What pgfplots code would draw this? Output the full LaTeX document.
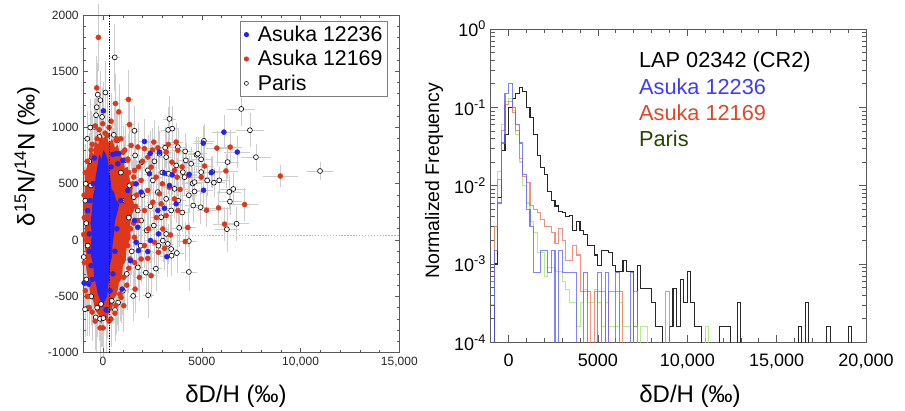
\documentclass[border=0pt]{standalone}
\usepackage{fontspec}
\setmainfont{Liberation Sans}
\setsansfont{Liberation Sans}
\usepackage{pgfplots}
\pgfplotsset{compat=1.18}
\definecolor{ablue}{RGB}{35,35,245}
\definecolor{ared}{RGB}{222,55,25}
\definecolor{errgray}{RGB}{205,205,205}
\definecolor{hblue}{RGB}{90,90,255}
\definecolor{hred}{RGB}{238,110,90}
\definecolor{hgreen}{RGB}{160,228,100}
\definecolor{hblack}{RGB}{40,40,40}
\definecolor{tblue}{RGB}{60,60,255}
\definecolor{tred}{RGB}{225,70,40}
\definecolor{tgreen}{RGB}{40,70,0}
\definecolor{frame}{RGB}{90,90,90}
\pgfplotsset{
  layers/scatterlayers/.define layer set={axis background,axis grid,axis ticks,axis lines,axis tick labels,errlayer,main,marklayer,axis descriptions,axis foreground}{},
  errs/.style={error bars/.cd, x dir=both, x explicit, y dir=both, y explicit,
     error bar style={errgray, line width=0.4pt}, error mark=none},
  reddot/.style={only marks, mark=*, mark size=1.85pt, mark options={draw=ared, fill=ared}, on layer=errlayer, mark layer=marklayer},
  bluedot/.style={only marks, mark=*, mark size=1.85pt, mark options={draw=ablue, fill=ablue}, on layer=errlayer, mark layer=marklayer},
  parisdot/.style={only marks, mark=*, mark size=1.85pt, mark options={draw=black, fill=white, line width=0.45pt}, on layer=errlayer, mark layer=marklayer},
}
\begin{document}
\begin{tikzpicture}
% ================= LEFT: scatter =================
\begin{axis}[
  set layers=scatterlayers,
  at={(62.5pt,43pt)}, anchor=south west, scale only axis,
  width=237pt, height=253.3pt,
  xmin=-1000, xmax=15000, ymin=-1000, ymax=2000,
  scaled x ticks=false, scaled y ticks=false,
  axis line style={frame, line width=0.6pt},
  tick style={frame, line width=0.5pt},
  major tick length=3.5pt, minor tick length=2pt,
  xtick={0,5000,10000,15000}, xticklabels={0,5000,{10,000},{15,000}},
  ytick={-1000,-500,0,500,1000,1500,2000},
  yticklabels={-1000,-500,0,500,1000,1500,2000},
  minor x tick num=4, minor y tick num=4,
  ticklabel style={font=\fontsize{9}{10}\selectfont, text=black!85},
  xlabel={δD/H (‰)},
  ylabel={δ\textsuperscript{15}N/\textsuperscript{14}N (‰)},
  label style={font=\fontsize{18}{20}\selectfont},
  xlabel style={at={(axis description cs:0.483,-0.128)}, anchor=center},
  ylabel style={at={(axis description cs:-0.178,0.582)}, anchor=center},
  legend style={at={(0.965,0.983)}, anchor=north east, draw=gray, line width=0.8pt,
     font=\fontsize{16}{18}\selectfont, inner xsep=2pt, inner ysep=1.5pt,
     nodes={inner sep=2pt}, row sep=1.2pt, cells={anchor=west}},
  legend image code/.code={\path (0,0) (0.3cm,0); \draw[#1] plot coordinates {(0.15cm,0cm)};},
]
\addlegendimage{only marks, mark=*, mark size=1.5pt, mark options={draw=ablue, fill=ablue}}
\addlegendentry{Asuka 12236}
\addlegendimage{only marks, mark=*, mark size=1.5pt, mark options={draw=ared, fill=ared}}
\addlegendentry{Asuka 12169}
\addlegendimage{only marks, mark=*, mark size=1.5pt, mark options={draw=black, fill=white, line width=0.4pt}}
\addlegendentry{Paris}

% horizontal reference line
\addplot[forget plot, gray!55, line width=0.6pt, dash pattern=on 1pt off 1.2pt, on layer=errlayer] coordinates {(-1000,40) (15000,40)};

% core points inside the dense cluster (only their error bars show)
\addplot[draw=none, mark=none, forget plot, on layer=errlayer, errs] coordinates {
(-600,300) +- (300,500)
(-300,600) +- (300,550)
(0,500) +- (350,600)
(300,400) +- (350,550)
(600,300) +- (400,450)
(900,100) +- (400,450)
(500,-100) +- (350,500)
(200,-300) +- (350,550)
(-200,-400) +- (300,500)
(-500,-200) +- (300,500)
(-750,100) +- (250,500)
(100,100) +- (400,700)
(-200,200) +- (350,650)
(400,700) +- (350,500)
(-100,-550) +- (300,400)
(700,-300) +- (350,450)
(1100,400) +- (350,400)
(-600,600) +- (300,550)
(200,800) +- (300,500)
(0,-200) +- (350,750)
(-400,0) +- (300,650)
(300,0) +- (350,700)
(-100,300) +- (300,800)
(150,-600) +- (250,400)
(-350,-650) +- (250,350)
(800,600) +- (350,450)
(-700,-300) +- (250,450)
(500,500) +- (350,500)
(-50,-350) +- (300,600)
(250,200) +- (350,650)
};

% Paris
\addplot[parisdot, forget plot, errs] coordinates {
(591,1623) +- (250,300)
(6996,1165) +- (700,150)
(7436,976) +- (700,150)
(7740,737) +- (750,120)
(10985,614) +- (680,80)
(6303,693) +- (600,150)
(6388,428) +- (600,150)
(6591,454) +- (650,140)
(6422,342) +- (600,120)
(6270,97) +- (600,200)
(6760,145) +- (650,150)
(5881,531) +- (550,120)
(5610,510) +- (550,130)
(5526,605) +- (500,140)
(5103,882) +- (500,150)
(4968,717) +- (480,150)
(4731,758) +- (450,160)
(4191,708) +- (420,150)
(4157,788) +- (420,160)
(3363,1077) +- (350,200)
(3295,979) +- (350,200)
(1588,971) +- (250,220)
(3785,826) +- (380,170)
(4529,502) +- (450,150)
(4935,292) +- (450,150)
(4563,307) +- (420,150)
(4343,398) +- (400,160)
(4005,245) +- (400,170)
(3853,109) +- (380,170)
(4343,-9) +- (400,160)
(4343,-283) +- (400,170)
(3735,-115) +- (380,180)
(3465,-139) +- (350,180)
(2670,-254) +- (300,200)
(2281,-490) +- (280,200)
(2163,-289) +- (280,200)
(1521,-496) +- (230,220)
(760,-555) +- (200,250)
(-777,-605) +- (150,250)
(-913,-614) +- (150,250)
(-372,-687) +- (150,280)
(-152,-699) +- (150,280)
(17,-693) +- (150,280)
(-271,1292) +- (150,280)
(118,1311) +- (150,280)
(-321,1180) +- (150,260)
(-135,1243) +- (150,260)
(-355,1109) +- (150,260)
(-51,1094) +- (150,260)
(-440,1005) +- (150,250)
(-186,916) +- (150,250)
(541,935) +- (200,250)
(710,885) +- (200,230)
(4799,767) +- (450,150)
(4461,678) +- (430,150)
(4968,604) +- (450,140)
(5272,530) +- (480,140)
(4630,515) +- (430,150)
(4630,432) +- (430,150)
(3194,737) +- (330,180)
(3700,663) +- (370,170)
(4039,604) +- (400,160)
(4124,559) +- (400,160)
(3143,821) +- (320,180)
(2856,767) +- (300,190)
(3312,589) +- (330,180)
(3616,455) +- (360,170)
(3194,366) +- (330,180)
(3447,263) +- (340,180)
(2940,203) +- (310,190)
(2568,129) +- (300,190)
(2213,85) +- (280,200)
(1926,174) +- (260,200)
(1757,263) +- (250,210)
(1554,381) +- (240,210)
(1335,485) +- (230,220)
(2771,426) +- (300,190)
(2518,530) +- (290,200)
(2264,619) +- (280,200)
(1960,693) +- (260,210)
(1622,752) +- (250,210)
(1081,708) +- (220,220)
(3500,990) +- (350,200)
(3447,-79) +- (340,180)
(3278,-34) +- (330,180)
(3025,-5) +- (310,190)
(3194,55) +- (320,190)
(1757,-242) +- (250,210)
(439,-539) +- (200,250)
(-102,-568) +- (150,260)
(-609,485) +- (150,250)
(-777,-49) +- (150,240)
(-850,150) +- (150,240)
(-900,350) +- (150,240)
(-700,700) +- (150,250)
(1450,-100) +- (230,210)
(1200,-300) +- (220,220)
(1000,-450) +- (210,230)
(600,-620) +- (200,250)
(1300,200) +- (230,210)
(1100,350) +- (220,220)
(900,600) +- (210,230)
(-600,-500) +- (150,250)
(-300,-600) +- (150,260)
(200,-620) +- (160,260)
(2000,400) +- (270,200)
(2400,300) +- (280,200)
(2600,700) +- (290,200)
(3000,600) +- (310,190)
(2800,-50) +- (300,190)
(3800,350) +- (380,170)
(1900,-50) +- (260,210)
(-850,-350) +- (150,250)
(-880,500) +- (150,250)
(-800,900) +- (150,250)
(-650,1000) +- (150,250)
(-980,-150) +- (150,250)
};

% red dense core
\addplot[forget plot, fill=ared, draw=none, on layer=main] coordinates {
(-900,600) (-750,700) (-650,820) (-500,760) (-400,880) (-250,850) (-150,960)
(0,900) (150,940) (300,860) (450,900) (600,820) (750,850) (850,760)
(1000,720) (1100,640) (1250,650) (1350,540) (1500,470) (1450,380)
(1600,300) (1450,220) (1350,120) (1400,20) (1200,-60) (1150,-180)
(1000,-230) (950,-340) (800,-380) (700,-480) (550,-520) (450,-620)
(300,-640) (200,-720) (50,-690) (-100,-740) (-250,-660) (-400,-620)
(-500,-540) (-650,-480) (-750,-350) (-850,-260) (-880,-120) (-960,0)
(-900,150) (-970,300) (-920,450)
};

% Asuka 12169
\addplot[reddot, forget plot, errs] coordinates {
(-237,1801) +- (150,300)
(-321,1352) +- (150,280)
(1284,1249) +- (220,260)
(625,1213) +- (200,260)
(794,1139) +- (200,250)
(1335,1026) +- (220,240)
(406,1056) +- (180,250)
(-389,1014) +- (150,250)
(5763,817) +- (550,150)
(6439,826) +- (600,150)
(6219,614) +- (600,150)
(8974,569) +- (900,100)
(7165,316) +- (700,150)
(5847,286) +- (550,150)
(5239,265) +- (500,150)
(6151,142) +- (600,150)
(4292,112) +- (400,170)
(5137,658) +- (500,150)
(4326,572) +- (420,160)
(3700,871) +- (370,170)
(2568,871) +- (300,200)
(2770,820) +- (300,190)
(4968,559) +- (450,150)
(3785,797) +- (380,170)
(3194,782) +- (330,180)
(3481,693) +- (350,180)
(3616,619) +- (360,170)
(3751,559) +- (370,170)
(3363,470) +- (340,180)
(3616,366) +- (360,170)
(3785,263) +- (380,170)
(3194,218) +- (330,180)
(2940,322) +- (310,190)
(2856,411) +- (300,190)
(2686,559) +- (290,200)
(2433,648) +- (280,200)
(2264,737) +- (280,200)
(2095,812) +- (270,200)
(1757,827) +- (250,210)
(1419,841) +- (240,210)
(1250,708) +- (230,220)
(1588,619) +- (250,210)
(1926,530) +- (260,210)
(2264,441) +- (280,200)
(2518,337) +- (290,200)
(2095,263) +- (270,200)
(1757,174) +- (250,210)
(1419,263) +- (240,210)
(1165,352) +- (230,220)
(912,441) +- (220,220)
(743,559) +- (210,230)
(574,678) +- (200,230)
(490,797) +- (200,240)
(659,886) +- (200,240)
(236,930) +- (180,250)
(-102,886) +- (150,250)
(-17,1034) +- (160,250)
(4157,-13) +- (400,170)
(3413,46) +- (340,180)
(3025,99) +- (310,190)
(3109,-73) +- (320,190)
(2805,-108) +- (300,190)
(2264,-162) +- (280,200)
(2433,-316) +- (280,200)
(1842,-331) +- (260,210)
(1622,-435) +- (250,210)
(1047,-583) +- (220,230)
(912,-509) +- (220,230)
(1368,-168) +- (240,210)
(1926,-168) +- (260,210)
(2095,-49) +- (270,200)
(2602,-19) +- (290,200)
(1250,-49) +- (230,220)
(1588,25) +- (250,210)
(1500,500) +- (240,210)
(1700,400) +- (250,210)
(1800,650) +- (250,210)
(2000,700) +- (270,200)
(1300,600) +- (230,220)
(1100,800) +- (220,230)
(900,900) +- (210,240)
(300,1000) +- (180,250)
(100,950) +- (170,250)
(-300,900) +- (150,250)
(-600,800) +- (150,250)
(-900,600) +- (150,250)
(-950,200) +- (150,250)
(-950,-200) +- (150,250)
(-900,-450) +- (150,250)
(-700,-600) +- (150,250)
(-400,-720) +- (150,260)
(0,-780) +- (150,260)
(300,-720) +- (160,260)
(600,-650) +- (180,250)
(1400,100) +- (240,210)
(1200,-400) +- (220,220)
(800,-200) +- (210,230)
(2300,100) +- (280,200)
(2700,200) +- (290,200)
(3000,500) +- (310,190)
(2500,800) +- (290,200)
(3300,850) +- (340,180)
(3900,450) +- (390,170)
(4000,650) +- (400,160)
(-800,700) +- (150,250)
(-550,850) +- (150,250)
(-200,980) +- (150,250)
(700,900) +- (200,240)
(1000,780) +- (220,230)
(1250,720) +- (230,220)
(1550,560) +- (240,210)
(1650,300) +- (250,210)
(1550,150) +- (240,210)
(1300,-250) +- (230,220)
(1050,-330) +- (220,230)
(850,-480) +- (210,240)
(650,-580) +- (200,250)
(400,-700) +- (180,250)
(-150,-780) +- (150,260)
(-550,-640) +- (150,260)
(-800,-500) +- (150,250)
(-980,50) +- (150,250)
(-960,400) +- (150,250)
(1150,150) +- (230,220)
(1600,-200) +- (250,210)
};

% blue dense core
\addplot[forget plot, fill=ablue, draw=none, on layer=main] coordinates {
(-200,760) (-80,720) (20,800) (150,760) (250,700) (300,600) (380,540)
(430,450) (550,430) (650,360) (820,320) (700,230) (600,170) (560,60)
(480,-40) (450,-150) (350,-220) (320,-330) (240,-420) (200,-500)
(80,-540) (-30,-600) (-150,-530) (-260,-480) (-350,-400) (-450,-330)
(-500,-220) (-600,-150) (-620,-30) (-560,60) (-640,150) (-560,260)
(-520,380) (-430,450) (-380,560) (-300,640)
};

% Asuka 12236
\addplot[bluedot, forget plot, errs] coordinates {
(6118,959) +- (600,150)
(6794,782) +- (650,140)
(5070,861) +- (500,150)
(5087,443) +- (500,150)
(5475,599) +- (540,140)
(4360,584) +- (420,160)
(2095,876) +- (270,200)
(2383,770) +- (280,200)
(3228,-148) +- (330,180)
(2400,-3) +- (280,200)
(17,1148) +- (160,260)
(2856,782) +- (300,190)
(2348,589) +- (280,200)
(3109,595) +- (320,190)
(3363,485) +- (340,180)
(3700,322) +- (370,170)
(3109,283) +- (320,190)
(2771,263) +- (300,190)
(1926,426) +- (260,210)
(1673,500) +- (250,210)
(1588,174) +- (250,210)
(1757,114) +- (250,210)
(1250,441) +- (230,220)
(997,708) +- (220,220)
(743,678) +- (210,230)
(659,767) +- (200,230)
(490,761) +- (200,240)
(2805,55) +- (300,190)
(2264,-102) +- (280,200)
(1791,-94) +- (250,210)
(1385,-183) +- (240,210)
(963,-435) +- (220,230)
(1673,-19) +- (250,210)
(-777,262) +- (150,240)
(-693,55) +- (150,240)
(-609,-227) +- (150,250)
(-727,-391) +- (150,250)
(-960,-380) +- (150,250)
(-440,729) +- (150,240)
(3500,580) +- (350,180)
(794,768) +- (200,230)
(700,100) +- (200,230)
(600,-100) +- (200,230)
(500,-300) +- (180,240)
(350,-450) +- (170,250)
(-500,500) +- (150,250)
(-650,350) +- (150,250)
(-700,-100) +- (150,250)
(-550,-350) +- (150,250)
(900,350) +- (210,230)
(400,650) +- (180,240)
(150,-620) +- (160,260)
};

% vertical reference line
\addplot[forget plot, black, line width=0.6pt, dash pattern=on 1pt off 1pt, on layer=axis foreground] coordinates {(330,-1000) (330,2000)};
\end{axis}

% ================= RIGHT: histograms =================
\begin{axis}[
  at={(368pt,50.8pt)}, anchor=south west, scale only axis,
  width=281.5pt, height=235pt,
  ymode=log, xmin=-1000, xmax=20000, ymin=1e-4, ymax=1,
  scaled x ticks=false,
  axis line style={frame, line width=0.6pt},
  tick style={frame, line width=0.5pt},
  major tick length=5.5pt, minor tick length=3pt,
  xtick={0,5000,10000,15000,20000},
  xticklabels={0,5000,{10,000},{15,000},{20,000}},
  minor x tick num=4,
  ytick={1e-4,1e-3,1e-2,1e-1,1},
  yticklabels={10\textsuperscript{-4},10\textsuperscript{-3},10\textsuperscript{-2},10\textsuperscript{-1},10\textsuperscript{0}},
  ticklabel style={font=\fontsize{13.5}{15}\selectfont},
  xticklabel style={yshift=-5pt},
  xlabel={δD/H (‰)},
  ylabel={Normalized Frequency},
  xlabel style={font=\fontsize{18}{20}\selectfont, at={(axis description cs:0.531,-0.171)}, anchor=center},
  ylabel style={font=\fontsize{14.6}{16}\selectfont, at={(axis description cs:-0.151,0.515)}, anchor=center},
]
% LAP 02342 (CR2)
\addplot[const plot, hblack, line width=0.85pt] coordinates {
(-1000,1e-6) (-800,0.001) (-600,0.007) (-400,0.028) (-200,0.045) (0,0.10)
(200,0.13) (400,0.15) (600,0.18) (800,0.16) (1000,0.10) (1200,0.075)
(1400,0.045) (1600,0.024) (1800,0.017) (2000,0.014) (2200,0.0085)
(2400,0.0065) (2600,0.0055) (2800,0.0047) (3000,0.0045) (3200,0.004)
(3400,0.0042) (3600,0.0027) (3800,0.0035) (4000,0.0027) (4200,0.0024)
(4400,0.0017) (4600,0.0017) (4800,0.0013) (5000,0.00096) (5200,0.0015)
(5400,0.0015) (5600,0.0014) (5800,0.00096) (6000,0.0008) (6200,0.0008)
(6400,0.00112) (6600,0.0008) (6800,0.0008) (7000,0.00016) (7200,0.00096)
(7400,0.00048) (7600,0.00048) (7800,0.00048) (8000,0.00032) (8200,0.00016)
(8400,0.00016) (8600,1e-6) (9000,0.00016) (9200,0.00048) (9400,0.00016)
(9600,0.00064) (9800,0.00032) (10000,0.0008) (10200,0.00032) (10400,0.00016)
(10600,0.00016) (10800,1e-6) (11800,0.00016) (12400,1e-6) (12800,0.00032)
(13000,1e-6) (16200,0.00016) (16400,1e-6) (16600,0.00032) (16800,1e-6)
(17800,0.00016) (18000,1e-6) (19000,0.00016) (19200,1e-6)
};
% Paris
\addplot[const plot, hgreen, line width=0.8pt, opacity=0.75] coordinates {
(-1000,0.0003) (-800,0.003) (-600,0.015) (-400,0.06) (-200,0.12) (0,0.13)
(200,0.09) (400,0.045) (600,0.02) (800,0.01) (1000,0.006) (1200,0.0035)
(1400,0.0025) (1600,0.0014) (1800,0.0014) (2000,0.0007) (2200,0.0009)
(2400,0.0009) (2600,0.0008) (2800,0.0008) (3000,0.0006) (3200,0.00047)
(3400,0.00032) (3600,0.00032) (3800,0.00016) (4000,0.00032) (4200,0.00047)
(4400,0.00032) (4600,0.00032) (4800,0.00047) (5000,0.00032) (5200,0.00016)
(5400,0.00032) (5600,0.00016) (5800,0.00016) (6000,0.00016) (6200,0.00032)
(6400,0.00016) (6600,0.00016) (6800,1e-6) (7000,0.00016) (7200,1e-6)
(7400,0.00016) (7600,0.00016) (7800,1e-6) (11000,0.00016) (11200,1e-6)
};
% Asuka 12169
\addplot[const plot, hred, line width=0.8pt, opacity=0.75] coordinates {
(-1000,0.0006) (-800,0.003) (-600,0.012) (-400,0.05) (-200,0.11) (0,0.12)
(200,0.085) (400,0.05) (600,0.022) (800,0.013) (1000,0.011) (1200,0.0055)
(1400,0.005) (1600,0.0045) (1800,0.0037) (2000,0.003) (2200,0.003)
(2400,0.0025) (2600,0.0018) (2800,0.0028) (3000,0.002) (3200,0.0011)
(3400,0.0011) (3600,0.0017) (3800,0.0013) (4000,0.00044) (4200,0.00044)
(4400,0.00044) (4600,1e-6) (4800,0.00044) (5000,0.00044) (5200,0.00044)
(5400,1e-6) (5600,0.00044) (5800,0.00044) (6000,0.00044) (6200,0.00044)
(6400,1e-6) (7000,0.00044) (7200,1e-6) (8800,0.00044) (9000,1e-6)
};
% Asuka 12236
\addplot[const plot, hblue, line width=0.8pt, opacity=0.75] coordinates {
(-1000,1e-6) (-800,0.0015) (-600,0.006) (-400,0.035) (-200,0.15) (0,0.2)
(200,0.1) (400,0.06) (600,0.035) (800,0.014) (1000,0.005) (1200,0.003)
(1400,0.00077) (1600,0.00077) (1800,0.0015) (2000,0.0015) (2200,0.00077)
(2400,0.0015) (2600,1e-6) (2800,0.0015) (3000,0.00077) (3200,0.00077)
(3400,0.00077) (3600,0.00077) (3800,1e-6) (4200,0.00077) (4400,1e-6)
(5000,0.00077) (5200,1e-6) (5400,0.00077) (5600,1e-6) (6000,0.00077)
(6200,1e-6) (6800,0.00077) (7000,1e-6)
};
\node[anchor=west, font=\fontsize{16.3}{18}\selectfont, text=black] at (axis description cs:0.383,0.896) {LAP 02342 (CR2)};
\node[anchor=west, font=\fontsize{16.3}{18}\selectfont, text=tblue] at (axis description cs:0.383,0.816) {Asuka 12236};
\node[anchor=west, font=\fontsize{16.3}{18}\selectfont, text=tred] at (axis description cs:0.383,0.733) {Asuka 12169};
\node[anchor=west, font=\fontsize{16.3}{18}\selectfont, text=tgreen] at (axis description cs:0.383,0.651) {Paris};
\end{axis}
\pgfresetboundingbox
\path[use as bounding box] (0,0) rectangle (678.75pt,307.5pt);
\end{tikzpicture}
\end{document}
